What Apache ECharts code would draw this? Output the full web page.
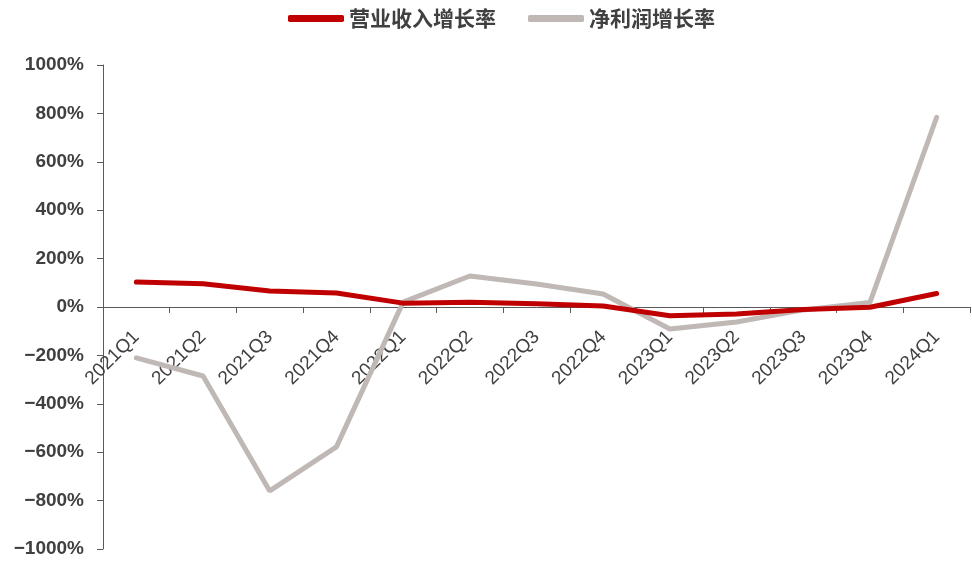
<!DOCTYPE html>
<html>
<head>
<meta charset="utf-8">
<script src="https://cdn.jsdelivr.net/npm/echarts@6/dist/echarts.min.js"></script>
<style>
  html, body { margin: 0; padding: 0; background: #fff; }
  #chart { width: 972px; height: 566px; }
</style>
</head>
<body>
<div id="chart"></div>
<script>
// 季度
const quarters = ['2021Q1', '2021Q2', '2021Q3', '2021Q4', '2022Q1', '2022Q2', '2022Q3',
  '2022Q4', '2023Q1', '2023Q2', '2023Q3', '2023Q4', '2024Q1']
// 营业收入增长率 (%)
const revenueGrowth = [103, 96, 66, 58, 16, 20, 13, 4, -36, -29, -10, -1, 56]
// 净利润增长率 (%)
const profitGrowth = [-210, -285, -760, -578, 20, 128, 95, 54, -91, -62, -12, 19, 784]

const myChart = echarts.init(document.getElementById('chart'))

// 网格高度 484，0 轴位于中间，x 轴上移一半
const gridTop = 65
const gridBottom = 17
const plotH = 566 - gridTop - gridBottom

const option = {
  animation: false,
  legend: {
    top: 3,
    left: 283,
    itemWidth: 56,
    itemHeight: 7,
    itemGap: 32,
    icon: 'roundRect',
    textStyle: {
      fontFamily: 'Noto Sans CJK SC',
      fontWeight: 'bold',
      fontSize: 21,
      color: '#404040'
    },
    data: ['营业收入增长率', '净利润增长率']
  },
  grid: {
    left: 103,
    right: 2,
    top: gridTop,
    bottom: gridBottom,
    outerBoundsMode: 'none',
    containLabel: false
  },
  xAxis: {
    type: 'category',
    data: quarters,
    boundaryGap: true,
    position: 'bottom',
    offset: -plotH / 2,
    z: 0,
    axisLine: {
      onZero: false,
      lineStyle: { color: '#595959', width: 1 }
    },
    axisTick: {
      show: true,
      length: 6,
      lineStyle: { color: '#595959' }
    },
    axisLabel: {
      rotate: 45,
      interval: 0,
      margin: 27,
      fontFamily: 'Liberation Sans',
      fontSize: 19,
      color: '#404040'
    },
    splitLine: { show: false }
  },
  yAxis: {
    type: 'value',
    min: -1000,
    max: 1000,
    interval: 200,
    axisLine: {
      show: true,
      onZero: false,
      lineStyle: { color: '#595959', width: 1 }
    },
    axisTick: {
      show: true,
      length: 6,
      lineStyle: { color: '#595959' }
    },
    axisLabel: {
      margin: 19,
      fontFamily: 'Liberation Sans',
      fontWeight: 'bold',
      fontSize: 19,
      color: '#404040',
      formatter: function (v) {
        return (v < 0 ? '\u2212' + Math.abs(v) : v) + '%'
      }
    },
    splitLine: { show: false }
  },
  series: [
    {
      name: '营业收入增长率',
      type: 'line',
      data: revenueGrowth,
      symbol: 'none',
      color: '#C00000',
      lineStyle: { width: 5, color: '#C00000', cap: 'round' },
      z: 4
    },
    {
      name: '净利润增长率',
      type: 'line',
      data: profitGrowth,
      symbol: 'none',
      color: '#BFB8B5',
      lineStyle: { width: 5, color: '#BFB8B5', cap: 'round' },
      z: 3
    }
  ]
}

myChart.setOption(option)
</script>
</body>
</html>
